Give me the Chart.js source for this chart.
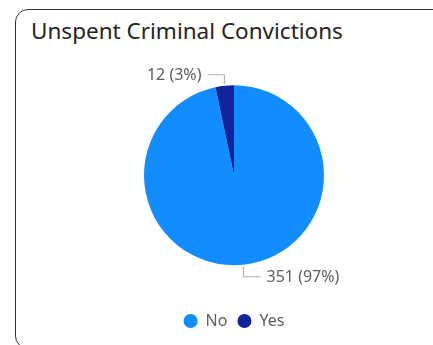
<!DOCTYPE html>
<html>
<head>
<meta charset="utf-8">
<script src="https://cdn.jsdelivr.net/npm/chart.js@4.4.1/dist/chart.umd.min.js"></script>
<style>
  html, body { margin: 0; padding: 0; background: #fff; }
  #wrap { position: relative; width: 433px; height: 345px; overflow: hidden; }
  /* tarjeta con borde redondeado */
  .card {
    position: absolute; left: 15px; top: 9px; width: 440px; height: 340px;
    border: 1.6px solid #333; border-radius: 13px; box-sizing: border-box;
  }
  .card-title {
    position: absolute; left: 31px; top: 18px;
    font-family: "Noto Sans", sans-serif; font-size: 22.5px; line-height: 26px;
    color: #252423; white-space: nowrap;
  }
  #grafico { position: absolute; left: 0; top: 0; }
</style>
</head>
<body>
<div id="wrap">
  <div class="card"></div>
  <div class="card-title">Unspent Criminal Convictions</div>
  <canvas id="grafico" width="433" height="345"></canvas>
</div>
<script>
// Datos del gráfico
const categorias = ['No', 'Yes'];
const valores = [351, 12];
const colores = ['#118DFF', '#12239E'];

// Etiquetas con línea guía: "valor (porcentaje)"
const etiquetasPie = {
  id: 'etiquetasPie',
  afterDatasetsDraw(chart) {
    const ctx = chart.ctx;
    const meta = chart.getDatasetMeta(0);
    const total = valores.reduce((a, b) => a + b, 0);
    ctx.save();
    meta.data.forEach((arc, i) => {
      const p = arc.getProps(['x', 'y', 'startAngle', 'endAngle', 'outerRadius'], true);
      const mid = (p.startAngle + p.endAngle) / 2;
      const x1 = p.x + Math.cos(mid) * (p.outerRadius + 2);
      const y1 = p.y + Math.sin(mid) * (p.outerRadius + 2);
      const dy = Math.sin(mid) < 0 ? -9 : 10;
      const dir = Math.cos(mid) < 0 ? -1 : 1;
      const y2 = y1 + dy;
      const x3 = x1 + dir * 17;
      ctx.strokeStyle = '#b3b0ad';
      ctx.lineWidth = 1.2;
      ctx.beginPath();
      ctx.moveTo(x1, y1);
      ctx.lineTo(x1, y2);
      ctx.lineTo(x3, y2);
      ctx.stroke();
      const pct = Math.round(valores[i] / total * 100);
      ctx.fillStyle = '#605E5C';
      ctx.font = '16px "Noto Sans", sans-serif';
      ctx.textBaseline = 'middle';
      ctx.textAlign = dir < 0 ? 'right' : 'left';
      ctx.fillText(valores[i] + ' (' + pct + '%)', x3 + dir * 6, y2 + 1);
    });
    ctx.restore();
  }
};

new Chart(document.getElementById('grafico'), {
  type: 'pie',
  data: {
    labels: categorias,
    datasets: [{
      data: valores,
      backgroundColor: colores,
      borderWidth: 0
    }]
  },
  options: {
    responsive: false,
    animation: false,
    layout: {
      padding: { left: 144, right: 109, top: 47.5, bottom: 6 }
    },
    plugins: {
      tooltip: { enabled: false },
      legend: {
        position: 'bottom',
        labels: {
          usePointStyle: true,
          pointStyle: 'circle',
          boxHeight: 10,
          pointStyleWidth: 14,
          padding: 10,
          color: '#605E5C',
          font: { family: '"Noto Sans", sans-serif', size: 16 }
        }
      }
    }
  },
  plugins: [etiquetasPie]
});
</script>
</body>
</html>
